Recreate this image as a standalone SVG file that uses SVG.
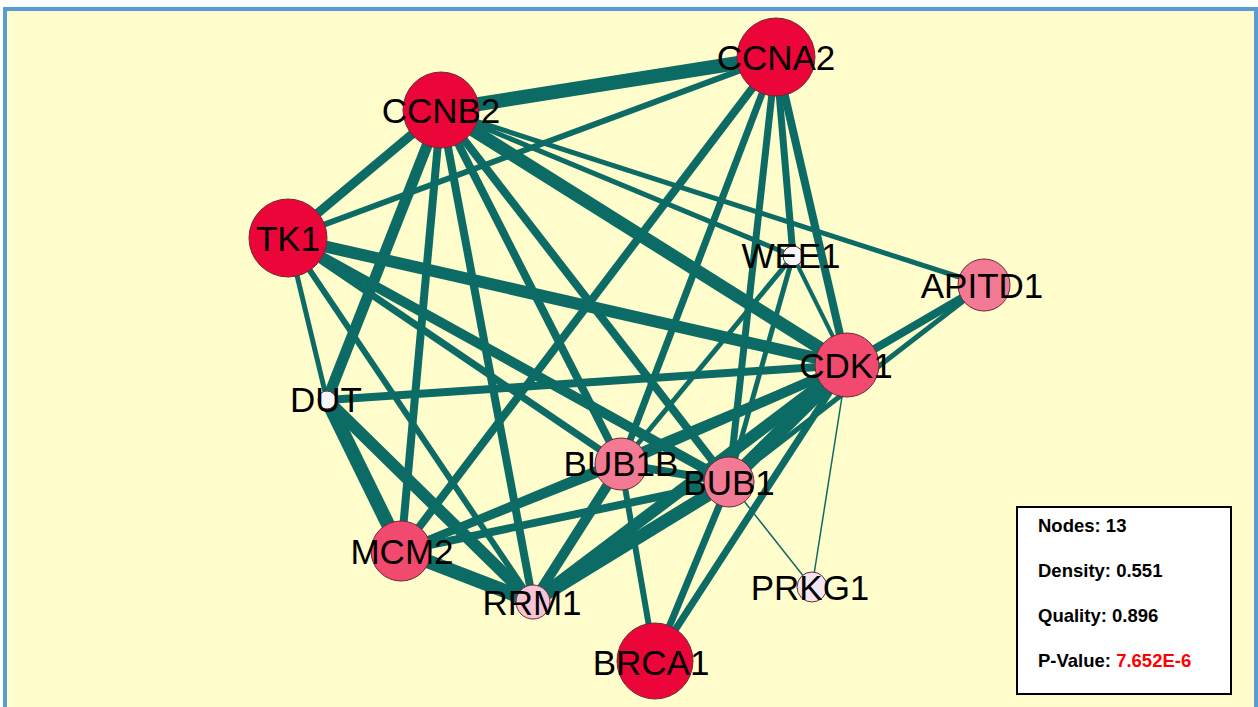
<svg xmlns="http://www.w3.org/2000/svg" width="1258" height="707" viewBox="0 0 1258 707">
<style>
.frame{fill:#fffdcc;stroke:#5b9bd5;stroke-width:4}
.e line{stroke:#0d6b65;stroke-linecap:butt}
.n circle{stroke:#6b2a35;stroke-width:1}
.n text{font-family:"Liberation Sans",Arial,sans-serif;font-size:35px;fill:#000;text-anchor:middle}
.c1{fill:#ec0538}.c2{fill:#f24a6f}.c3{fill:#f27a95}.c4{fill:#f6c4d4}.c5{fill:#f3e6f2}.c6{fill:#f7f7fb}
.info rect{fill:#fff;stroke:#000;stroke-width:2}
.info text{font-family:"Liberation Sans",Arial,sans-serif;font-size:18.5px;font-weight:bold;fill:#000}
</style>
<rect x="0" y="0" width="1258" height="707" fill="#ffffff"/>
<rect class="frame" x="5" y="9" width="1251" height="710"/>
<g id="edges" class="e">
<line x1="776" y1="57" x2="441" y2="110" stroke-width="14"/>
<line x1="776" y1="57" x2="288" y2="238" stroke-width="6"/>
<line x1="776" y1="57" x2="401" y2="551" stroke-width="8"/>
<line x1="776" y1="57" x2="621" y2="464" stroke-width="7"/>
<line x1="776" y1="57" x2="729" y2="482" stroke-width="7"/>
<line x1="776" y1="57" x2="793" y2="256" stroke-width="7"/>
<line x1="776" y1="57" x2="847" y2="365" stroke-width="8"/>
<line x1="441" y1="110" x2="288" y2="238" stroke-width="9"/>
<line x1="441" y1="110" x2="984" y2="285" stroke-width="5"/>
<line x1="441" y1="110" x2="793" y2="256" stroke-width="5"/>
<line x1="441" y1="110" x2="847" y2="365" stroke-width="13"/>
<line x1="441" y1="110" x2="327" y2="400" stroke-width="11"/>
<line x1="441" y1="110" x2="401" y2="551" stroke-width="8"/>
<line x1="441" y1="110" x2="533" y2="602" stroke-width="8"/>
<line x1="441" y1="110" x2="621" y2="464" stroke-width="8"/>
<line x1="441" y1="110" x2="729" y2="482" stroke-width="8"/>
<line x1="288" y1="238" x2="847" y2="365" stroke-width="12"/>
<line x1="288" y1="238" x2="327" y2="400" stroke-width="5"/>
<line x1="288" y1="238" x2="533" y2="602" stroke-width="6"/>
<line x1="288" y1="238" x2="729" y2="482" stroke-width="10"/>
<line x1="288" y1="238" x2="621" y2="464" stroke-width="7"/>
<line x1="847" y1="365" x2="984" y2="285" stroke-width="8"/>
<line x1="984" y1="285" x2="729" y2="482" stroke-width="5"/>
<line x1="847" y1="365" x2="793" y2="256" stroke-width="4"/>
<line x1="847" y1="365" x2="327" y2="400" stroke-width="8"/>
<line x1="847" y1="365" x2="812" y2="587" stroke-width="1.5"/>
<line x1="847" y1="365" x2="729" y2="482" stroke-width="14"/>
<line x1="847" y1="365" x2="621" y2="464" stroke-width="10"/>
<line x1="847" y1="365" x2="533" y2="602" stroke-width="12"/>
<line x1="847" y1="365" x2="401" y2="551" stroke-width="7"/>
<line x1="847" y1="365" x2="655" y2="661" stroke-width="7"/>
<line x1="793" y1="256" x2="729" y2="482" stroke-width="5"/>
<line x1="793" y1="256" x2="621" y2="464" stroke-width="5"/>
<line x1="729" y1="482" x2="812" y2="587" stroke-width="1.5"/>
<line x1="729" y1="482" x2="621" y2="464" stroke-width="8"/>
<line x1="729" y1="482" x2="533" y2="602" stroke-width="13"/>
<line x1="729" y1="482" x2="401" y2="551" stroke-width="8"/>
<line x1="729" y1="482" x2="655" y2="661" stroke-width="7"/>
<line x1="621" y1="464" x2="533" y2="602" stroke-width="10"/>
<line x1="621" y1="464" x2="401" y2="551" stroke-width="8"/>
<line x1="621" y1="464" x2="655" y2="661" stroke-width="6"/>
<line x1="327" y1="400" x2="401" y2="551" stroke-width="14"/>
<line x1="327" y1="400" x2="533" y2="602" stroke-width="12"/>
<line x1="401" y1="551" x2="533" y2="602" stroke-width="14"/>
</g>
<g id="node-CCNA2" class="n"><circle class="c1" cx="776" cy="57" r="39"/><text x="776" y="70">CCNA2</text></g>
<g id="node-CCNB2" class="n"><circle class="c1" cx="441" cy="110" r="38"/><text x="441" y="123">CCNB2</text></g>
<g id="node-TK1" class="n"><circle class="c1" cx="288" cy="238" r="39"/><text x="288" y="251">TK1</text></g>
<g id="node-WEE1" class="n"><circle class="c6" cx="793" cy="256" r="10"/><text x="791" y="268">WEE1</text></g>
<g id="node-APITD1" class="n"><circle class="c3" cx="984" cy="285" r="26"/><text x="982" y="298">APITD1</text></g>
<g id="node-CDK1" class="n"><circle class="c2" cx="847" cy="365" r="32"/><text x="846" y="378">CDK1</text></g>
<g id="node-DUT" class="n"><circle class="c6" cx="327" cy="400" r="9"/><text x="326" y="412">DUT</text></g>
<g id="node-BUB1B" class="n"><circle class="c3" cx="621" cy="464" r="26"/><text x="621" y="476">BUB1B</text></g>
<g id="node-BUB1" class="n"><circle class="c3" cx="729" cy="482" r="25"/><text x="729" y="495">BUB1</text></g>
<g id="node-MCM2" class="n"><circle class="c2" cx="401" cy="551" r="30"/><text x="402" y="564">MCM2</text></g>
<g id="node-RRM1" class="n"><circle class="c4" cx="533" cy="602" r="17"/><text x="532" y="615">RRM1</text></g>
<g id="node-BRCA1" class="n"><circle class="c1" cx="655" cy="661" r="38"/><text x="651" y="675">BRCA1</text></g>
<g id="node-PRKG1" class="n"><circle class="c5" cx="812" cy="587" r="15"/><text x="810" y="600">PRKG1</text></g>
<g id="info" class="info">
<rect x="1017" y="507" width="214" height="187"/>
<text x="1038" y="532">Nodes: 13</text>
<text x="1038" y="577">Density: 0.551</text>
<text x="1038" y="622">Quality: 0.896</text>
<text x="1038" y="667">P-Value: <tspan fill="#ff0000">7.652E-6</tspan></text>
</g>
</svg>
